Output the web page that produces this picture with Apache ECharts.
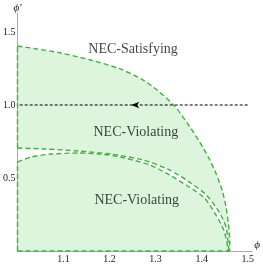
<!DOCTYPE html>
<html>
<head>
<meta charset="utf-8">
<script src="https://cdn.jsdelivr.net/npm/echarts@6/dist/echarts.min.js"></script>
<style>html,body{margin:0;padding:0;background:#fff}#c{width:263px;height:265px}</style>
</head>
<body>
<div id="c"></div>
<script>
// Outer boundary (NEC-Satisfying / NEC-Violating)
const outerCurve = [[1.000,1.404],[1.036,1.387],[1.094,1.356],[1.159,1.308],[1.223,1.247],[1.273,1.171],[1.303,1.103],[1.341,0.993],[1.373,0.856],[1.395,0.750],[1.415,0.640],[1.432,0.525],[1.445,0.410],[1.453,0.300],[1.458,0.190],[1.461,0.070],[1.461,0]];
// Upper middle boundary
const upperCurve = [[1.000,0.705],[1.058,0.699],[1.131,0.685],[1.202,0.664],[1.273,0.623],[1.330,0.555],[1.373,0.473],[1.410,0.384],[1.438,0.267],[1.453,0.164],[1.457,0.075],[1.459,0]];
// Lower middle boundary
const lowerCurve = [[1.000,0.610],[1.030,0.644],[1.073,0.664],[1.131,0.671],[1.180,0.664],[1.223,0.644],[1.288,0.589],[1.330,0.521],[1.373,0.438],[1.406,0.363],[1.431,0.247],[1.448,0.144],[1.455,0.055],[1.457,0]];
// Left edges and bottom edge
const leftEdgeLow = [[1.0,0],[1.0,0.610]];
const leftEdgeHigh = [[1.0,0.705],[1.0,1.404]];
const bottomEdge = [[1.0,0],[1.461,0]];
// Arrow line at phi' = 1
const arrowStart = [1.5,1.0];
const arrowHead = [1.247,1.0];
const arrowEnd = [1.0,1.0];
// Region labels
const regionLabels = [
  {text:'NEC-Satisfying', x:1.251, y:1.384},
  {text:'NEC-Violating', x:1.257, y:0.815},
  {text:'NEC-Violating', x:1.259, y:0.349}
];
const xTicks = [1.1,1.2,1.3,1.4,1.5];
const yTicks = [0.5,1.0,1.5];

const green = '#3cb43c';
const fill = 'rgb(221,245,221)';
const serif = 'Liberation Serif';

function areaSeries(data, color, z){
  return {type:'line', data:data, symbol:'none', smooth:0.25, z:z, silent:true,
    lineStyle:{width:0, opacity:0}, areaStyle:{color:color, opacity:1}};
}
function dashSeries(data, z, smooth){
  return {type:'line', data:data, symbol:'none', smooth:smooth, z:z, clip:false, silent:true,
    lineStyle:{color:green, width:1.4, type:[5,3]}};
}

const chart = echarts.init(document.getElementById('c'), null, {renderer:'canvas'});
chart.setOption({
  animation:false,
  backgroundColor:'#fff',
  grid:{left:16, right:9.5, top:13, bottom:14},
  xAxis:{type:'value', min:1.0, max:1.51, interval:0.1, z:4,
    name:'\u03D5', nameLocation:'end', nameGap:2,
    nameTextStyle:{fontFamily:serif, fontStyle:'italic', fontSize:11, color:'#222', verticalAlign:'bottom', align:'left'},
    axisLine:{onZero:false, lineStyle:{color:'#aaa', width:1}},
    axisTick:{show:false}, splitLine:{show:false},
    axisLabel:{margin:3, fontFamily:serif, fontSize:10, color:'#222',
      showMinLabel:false, showMaxLabel:false,
      formatter:function(v){ const t = xTicks.find(a=>Math.abs(a-v)<1e-6); return t!==undefined ? t.toFixed(1) : ''; }}
  },
  yAxis:{type:'value', min:0, max:1.63, interval:0.5, z:4,
    name:'\u03D5\u2032', nameLocation:'end', nameGap:-1,
    nameTextStyle:{fontFamily:serif, fontStyle:'italic', fontSize:11, color:'#222', align:'center'},
    axisLine:{lineStyle:{color:'#aaa', width:1}},
    axisTick:{show:false}, splitLine:{show:false},
    axisLabel:{margin:2, fontFamily:serif, fontSize:10, color:'#222',
      showMinLabel:false, showMaxLabel:false,
      formatter:function(v){ const t = yTicks.find(a=>Math.abs(a-v)<1e-6); return t!==undefined ? t.toFixed(1) : ''; }}
  },
  series:[
    areaSeries(outerCurve, fill, 1),
    areaSeries(upperCurve, '#ffffff', 2),
    areaSeries(lowerCurve, fill, 3),
    dashSeries(outerCurve, 5, 0.25),
    dashSeries(upperCurve, 5, 0.25),
    dashSeries(lowerCurve, 5, 0.25),
    dashSeries(leftEdgeLow, 5, false),
    dashSeries(leftEdgeHigh, 5, false),
    dashSeries(bottomEdge, 5, false),
    {type:'line', z:6, clip:false, silent:true, symbol:'none', showSymbol:true,
      lineStyle:{color:'#000', width:1, type:[3,2]},
      data:[
        {value:arrowStart, symbol:'none'},
        {value:arrowHead, symbol:'arrow', symbolSize:[5,8], symbolRotate:90, itemStyle:{color:'#000'}},
        {value:arrowEnd, symbol:'none'}
      ]},
    {type:'scatter', z:7, silent:true, symbolSize:0,
      data:regionLabels.map(d=>({value:[d.x,d.y], name:d.text})),
      label:{show:true, position:'inside', formatter:'{b}', color:'#111', fontFamily:serif, fontSize:14}}
  ]
});
</script>
</body>
</html>
